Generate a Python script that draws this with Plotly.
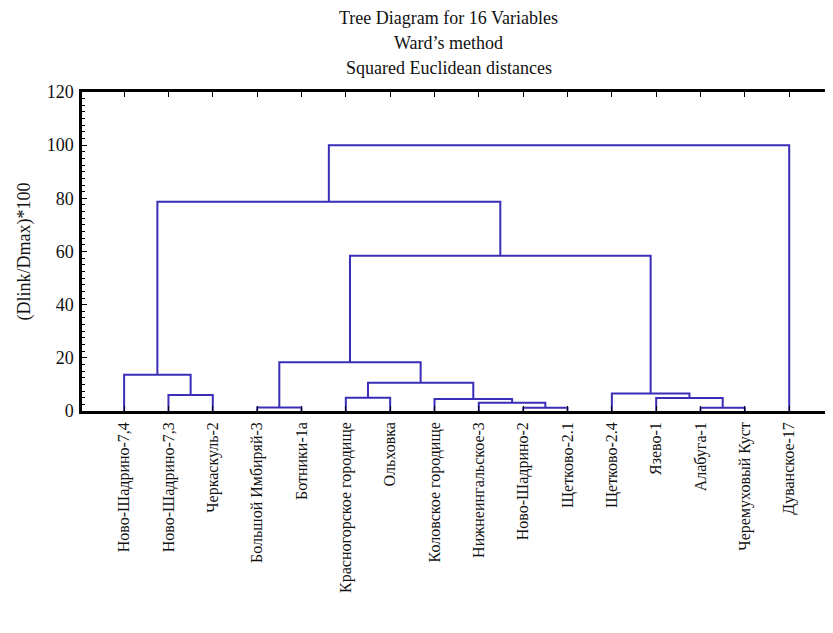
import plotly.graph_objects as go

LABELS = [
    "Ново-Шадрино-7,4", "Ново-Шадрино-7,3", "Черкаскуль-2", "Большой Имбиряй-3",
    "Ботники-1а", "Красногорское городище", "Ольховка", "Коловское городище",
    "Нижнеингальское-3", "Ново-Шадрино-2", "Щетково-2.1", "Щетково-2.4",
    "Язево-1", "Алабуга-1", "Черемуховый Куст", "Дуванское-17",
]

# linkage: cluster ids 0..15 are leaves, merge k creates id 16+k
MERGE_A = [9, 13, 3, 8, 7, 12, 5, 1, 11, 22, 0, 18, 27, 26, 29]
MERGE_B = [10, 14, 4, 16, 19, 17, 6, 2, 21, 20, 23, 25, 24, 28, 15]
MERGE_H = [1.2, 1.2, 1.3, 3.1, 4.5, 4.9, 5.0, 6.0, 6.6, 10.6, 13.6, 18.3, 58.4, 78.7, 100.0]

Y_TICKS = [0, 20, 40, 60, 80, 100, 120]

LINE = "#3a2db8"
FONT = "Liberation Serif, Times New Roman, serif"

pos = {i: i + 1 for i in range(len(LABELS))}
hgt = {i: 0.0 for i in range(len(LABELS))}
xs, ys = [], []
for k, (a, b, h) in enumerate(zip(MERGE_A, MERGE_B, MERGE_H)):
    xs += [pos[a], pos[a], pos[b], pos[b], None]
    ys += [hgt[a], h, h, hgt[b], None]
    pos[16 + k] = (pos[a] + pos[b]) / 2
    hgt[16 + k] = h

fig = go.Figure(
    go.Scatter(
        x=xs, y=ys, mode="lines",
        line=dict(color=LINE, width=2),
        hoverinfo="skip", showlegend=False,
    )
)

axis_common = dict(
    showline=True, linecolor="black", linewidth=2.5, mirror="ticks",
    showgrid=False, zeroline=False, ticks="inside", tickcolor="black",
    automargin=False,
)
fig.update_xaxes(
    range=[0.05, 16.92], tickvals=list(range(1, 17)), ticktext=LABELS,
    tickangle=-90, ticklen=5, ticklabelstandoff=2,
    tickfont=dict(family=FONT, size=16, color="#111"),
    **axis_common,
)
fig.update_yaxes(
    range=[0, 120], tickvals=Y_TICKS, ticklen=5, ticklabelstandoff=2,
    minor=dict(dtick=2.5, ticks="inside", ticklen=3, tickcolor="black"),
    tickfont=dict(family=FONT, size=18, color="#111"),
    title=dict(text="(Dlink/Dmax)*100", font=dict(family=FONT, size=18, color="#111"), standoff=12),
    **axis_common,
)

titles = ["Tree Diagram for 16 Variables", "Ward’s method", "Squared Euclidean distances"]
for t, yy in zip(titles, [1.232, 1.154, 1.076]):
    fig.add_annotation(
        text=t, x=0.49, y=yy, xref="paper", yref="paper",
        xanchor="center", yanchor="middle", showarrow=False,
        font=dict(family=FONT, size=18, color="#111"),
    )

# page body adds an 8px margin, so the figure is shifted back by that much
fig.update_layout(
    width=825, height=625,
    margin=dict(l=74, r=3, t=84, b=222),
    paper_bgcolor="white", plot_bgcolor="white",
)

fig.write_html("out.html")
